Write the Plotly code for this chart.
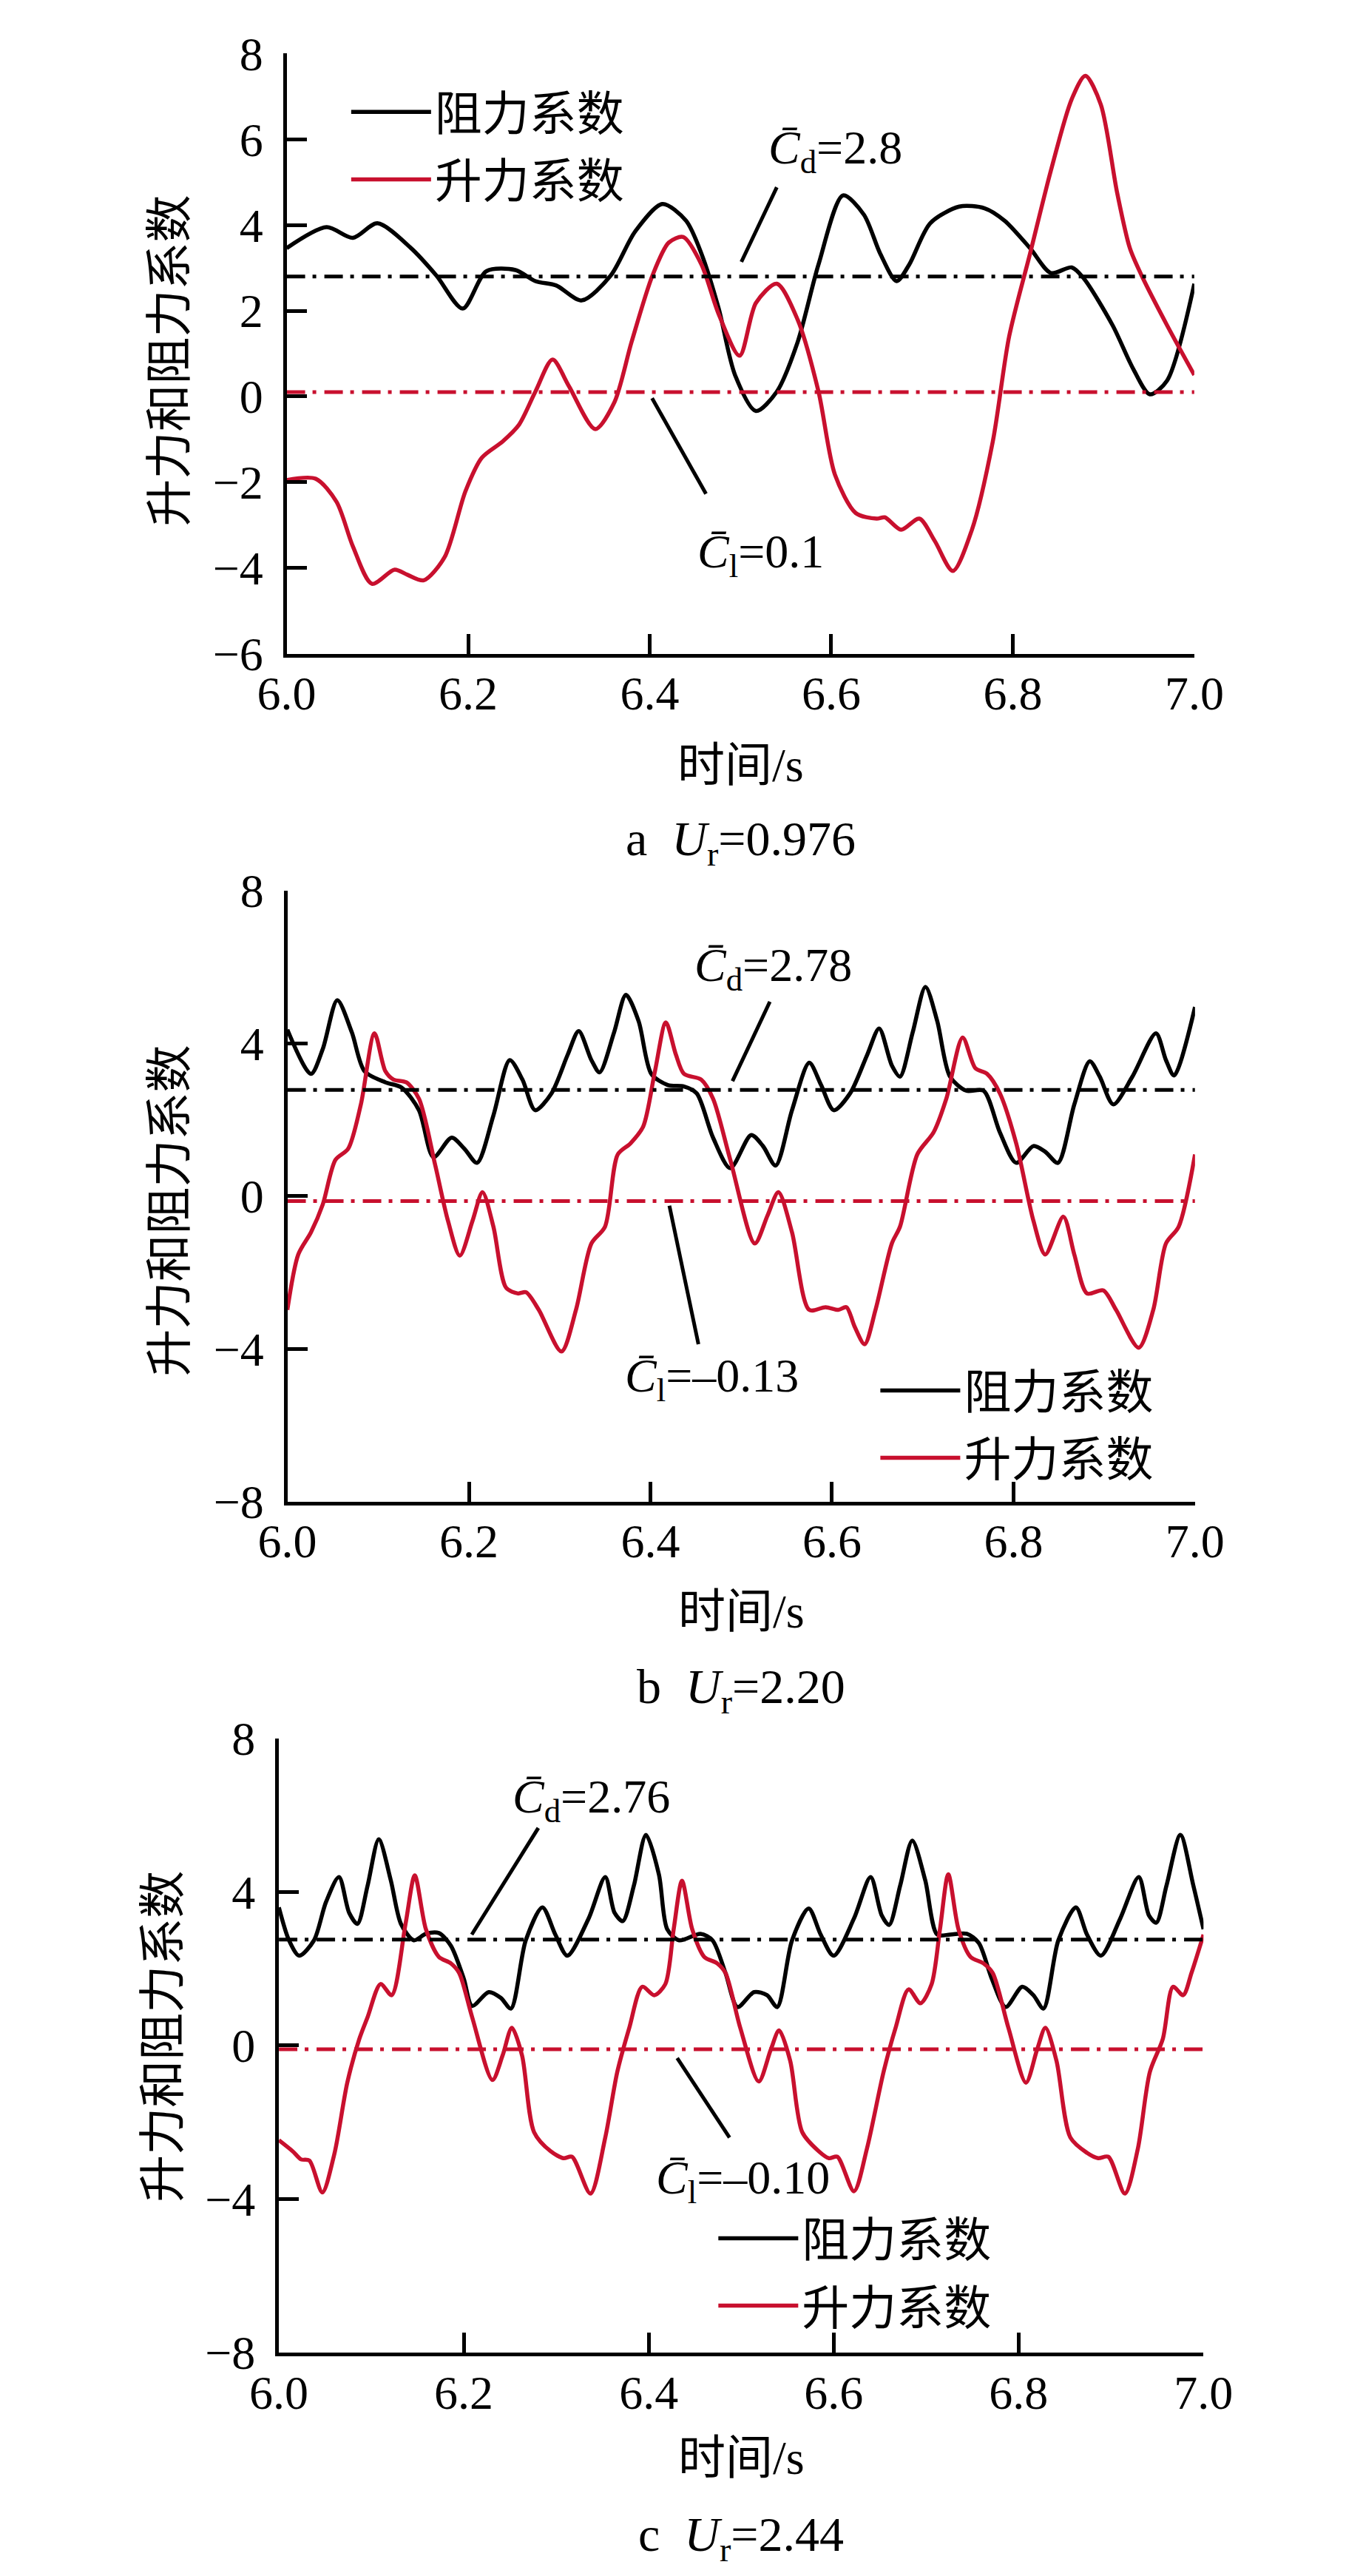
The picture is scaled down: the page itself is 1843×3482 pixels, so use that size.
import plotly.graph_objects as go

W, H = 1843, 3482
FONT = "Liberation Serif, Times New Roman, Noto Sans CJK SC, serif"
BLACK = "#000000"
RED = "#C8102E"
MEAN_DASH = "25px,10px,5px,11px"

# ---------------- data ----------------
# panel a  (Ur = 0.976)
T_A_CD = [6.000, 6.044, 6.073, 6.100, 6.137, 6.165, 6.194, 6.220, 6.252, 6.274, 6.297, 6.325, 6.357, 6.384,
          6.414, 6.440, 6.457, 6.476, 6.494, 6.517, 6.540, 6.563, 6.586, 6.613, 6.636, 6.654, 6.672, 6.686,
          6.709, 6.741, 6.769, 6.791, 6.819, 6.842, 6.865, 6.878, 6.910, 6.933, 6.951, 6.970, 7.000]
CD_A = [3.46, 3.95, 3.70, 4.04, 3.46, 2.82, 2.05, 2.92, 2.95, 2.69, 2.59, 2.24, 2.82, 3.85,
        4.49, 4.10, 3.33, 2.05, 0.50, -0.34, 0.11, 1.27, 3.08, 4.69, 4.24, 3.33, 2.69, 3.08,
        4.04, 4.43, 4.39, 4.10, 3.46, 2.88, 3.01, 2.76, 1.66, 0.63, 0.05, 0.37, 2.63]
T_A_CL = [6.000, 6.032, 6.055, 6.073, 6.094, 6.119, 6.133, 6.151, 6.174, 6.197, 6.215, 6.238, 6.256, 6.274,
          6.293, 6.311, 6.340, 6.361, 6.380, 6.403, 6.421, 6.437, 6.457, 6.476, 6.499, 6.517, 6.540, 6.563,
          6.586, 6.604, 6.627, 6.650, 6.659, 6.677, 6.697, 6.714, 6.734, 6.755, 6.778, 6.796, 6.819, 6.842,
          6.865, 6.880, 6.897, 6.915, 6.929, 6.942, 6.970, 7.000]
CL_A = [-1.95, -1.92, -2.46, -3.50, -4.37, -4.04, -4.16, -4.29, -3.75, -2.21, -1.43, -1.05, -0.66, 0.11,
        0.86, 0.24, -0.76, -0.14, 1.27, 2.82, 3.59, 3.72, 3.08, 1.92, 0.95, 2.18, 2.63, 1.79,
        0.11, -1.82, -2.72, -2.85, -2.82, -3.11, -2.85, -3.37, -4.07, -3.11, -1.05, 1.40, 3.33, 5.27,
        6.94, 7.48, 6.81, 4.75, 3.46, 2.82, 1.66, 0.50]
MEAN_A = [2.8, 0.1]

# panel b  (Ur = 2.20)
T_B_CD = [6.000, 6.026, 6.039, 6.055, 6.071, 6.085, 6.108, 6.126, 6.145, 6.161, 6.181, 6.195, 6.209, 6.227,
          6.245, 6.259, 6.273, 6.291, 6.309, 6.321, 6.335, 6.344, 6.360, 6.373, 6.387, 6.401, 6.419, 6.437,
          6.451, 6.469, 6.488, 6.511, 6.524, 6.538, 6.556, 6.575, 6.588, 6.602, 6.620, 6.639, 6.652, 6.666,
          6.675, 6.689, 6.703, 6.716, 6.730, 6.748, 6.767, 6.785, 6.803, 6.822, 6.835, 6.849, 6.867, 6.884,
          6.895, 6.910, 6.931, 6.957, 6.968, 6.977, 7.000]
CD_B = [4.36, 3.20, 3.85, 5.13, 4.29, 3.27, 2.98, 2.84, 2.25, 1.02, 1.53, 1.24, 0.87, 2.11,
        3.56, 3.05, 2.25, 2.69, 3.71, 4.32, 3.56, 3.24, 4.29, 5.27, 4.58, 3.20, 2.91, 2.87,
        2.69, 1.53, 0.73, 1.60, 1.31, 0.80, 2.25, 3.49, 2.91, 2.25, 2.69, 3.71, 4.39, 3.42,
        3.13, 4.29, 5.48, 4.58, 3.13, 2.76, 2.76, 1.67, 0.87, 1.31, 1.16, 0.87, 2.40, 3.53,
        3.13, 2.40, 3.13, 4.26, 3.56, 3.16, 4.95]
T_B_CL = [6.000, 6.012, 6.026, 6.039, 6.053, 6.067, 6.081, 6.096, 6.108, 6.117, 6.131, 6.145, 6.163, 6.177,
          6.190, 6.204, 6.215, 6.227, 6.241, 6.254, 6.263, 6.277, 6.302, 6.318, 6.335, 6.350, 6.364, 6.378,
          6.392, 6.405, 6.417, 6.428, 6.437, 6.456, 6.469, 6.488, 6.515, 6.529, 6.541, 6.556, 6.575, 6.593,
          6.607, 6.616, 6.625, 6.636, 6.648, 6.666, 6.675, 6.694, 6.712, 6.726, 6.744, 6.758, 6.771, 6.785,
          6.803, 6.822, 6.835, 6.855, 6.867, 6.881, 6.899, 6.913, 6.938, 6.954, 6.968, 6.982, 7.000]
CL_B = [-2.98, -1.53, -0.95, -0.22, 0.95, 1.24, 2.40, 4.26, 3.27, 3.05, 2.98, 2.55, 0.80, -0.65,
        -1.56, -0.65, 0.10, -0.80, -2.40, -2.55, -2.52, -2.98, -4.07, -2.98, -1.24, -0.80, 1.09, 1.38,
        1.82, 3.27, 4.55, 3.71, 3.20, 3.05, 2.55, 0.95, -1.24, -0.51, 0.10, -0.95, -2.98, -2.91,
        -2.98, -2.91, -3.42, -3.88, -2.98, -1.24, -0.80, 1.09, 1.67, 2.55, 4.15, 3.35, 3.20, 2.69,
        1.38, -0.65, -1.53, -0.54, -1.53, -2.55, -2.47, -2.98, -3.97, -2.98, -1.24, -0.80, 1.09]
MEAN_B = [2.78, -0.13]

# panel c  (Ur = 2.44)
T_C_CD = [6.000, 6.011, 6.022, 6.038, 6.051, 6.065, 6.076, 6.085, 6.096, 6.108, 6.121, 6.132, 6.146, 6.159,
          6.173, 6.186, 6.200, 6.209, 6.227, 6.240, 6.251, 6.267, 6.285, 6.299, 6.312, 6.335, 6.353, 6.363,
          6.372, 6.384, 6.397, 6.411, 6.420, 6.433, 6.456, 6.469, 6.483, 6.496, 6.514, 6.528, 6.539, 6.555,
          6.573, 6.586, 6.600, 6.622, 6.640, 6.652, 6.660, 6.672, 6.685, 6.699, 6.712, 6.726, 6.744, 6.757,
          6.771, 6.786, 6.804, 6.816, 6.827, 6.843, 6.862, 6.874, 6.889, 6.910, 6.930, 6.941, 6.949, 6.960,
          6.975, 6.989, 7.000]
CD_C = [3.60, 2.74, 2.34, 2.74, 3.74, 4.39, 3.46, 3.17, 4.17, 5.37, 4.31, 3.17, 2.74, 2.91,
        2.93, 2.60, 1.74, 1.03, 1.39, 1.24, 0.96, 2.74, 3.60, 2.89, 2.34, 3.31, 4.39, 3.46,
        3.24, 4.17, 5.49, 4.46, 3.03, 2.74, 2.91, 2.74, 1.89, 1.00, 1.39, 1.31, 1.00, 2.74,
        3.57, 2.89, 2.34, 3.31, 4.39, 3.39, 3.14, 4.17, 5.34, 4.31, 2.89, 2.89, 2.91, 2.67,
        1.74, 1.00, 1.53, 1.31, 0.96, 2.74, 3.60, 2.89, 2.34, 3.31, 4.39, 3.39, 3.20, 4.17,
        5.49, 4.17, 3.03]
T_C_CL = [6.000, 6.015, 6.024, 6.033, 6.047, 6.060, 6.074, 6.087, 6.096, 6.110, 6.122, 6.137, 6.147, 6.159,
          6.173, 6.186, 6.195, 6.209, 6.231, 6.242, 6.252, 6.263, 6.276, 6.294, 6.308, 6.317, 6.337, 6.353,
          6.366, 6.379, 6.393, 6.406, 6.418, 6.427, 6.436, 6.447, 6.460, 6.474, 6.483, 6.499, 6.519, 6.532,
          6.541, 6.553, 6.566, 6.584, 6.595, 6.604, 6.622, 6.636, 6.654, 6.667, 6.681, 6.694, 6.706, 6.715,
          6.724, 6.735, 6.748, 6.762, 6.772, 6.789, 6.808, 6.820, 6.829, 6.841, 6.856, 6.874, 6.886, 6.897,
          6.915, 6.929, 6.942, 6.956, 6.967, 6.978, 6.987, 7.000]
CL_C = [-2.47, -2.76, -2.97, -3.00, -3.83, -2.83, -0.97, 0.17, 0.74, 1.60, 1.31, 3.17, 4.43, 3.03,
        2.31, 2.14, 1.89, 0.74, -0.90, -0.26, 0.46, -0.26, -2.26, -2.76, -2.94, -2.90, -3.86, -2.40,
        -0.69, 0.46, 1.53, 1.31, 1.60, 3.03, 4.29, 3.03, 2.31, 2.14, 1.89, 0.46, -0.94, -0.11,
        0.39, -0.40, -2.26, -2.76, -2.94, -2.90, -3.80, -2.69, -0.69, 0.46, 1.46, 1.10, 1.60, 3.03,
        4.46, 3.03, 2.31, 2.14, 1.89, 0.46, -0.97, -0.11, 0.46, -0.40, -2.40, -2.80, -2.94, -2.90,
        -3.86, -2.69, -0.69, 0.17, 1.53, 1.31, 1.89, 2.89]
MEAN_C = [2.76, -0.10]

SERIES_NAMES = ["阻力系数", "升力系数"]
X_TICKS = [6.0, 6.2, 6.4, 6.6, 6.8, 7.0]
Y_RANGES = [[-6, 8], [-8, 8], [-8, 8]]
Y_DTICKS = [2, 4, 4]
CAPTIONS = ["a\u00a0\u00a0<i>U</i><sub>r</sub>=0.976",
            "b\u00a0\u00a0<i>U</i><sub>r</sub>=2.20",
            "c\u00a0\u00a0<i>U</i><sub>r</sub>=2.44"]
CD_LABELS = ["=2.8", "=2.78", "=2.76"]
CL_LABELS = ["=0.1", "=–0.13", "=–0.10"]

# annotation anchor points (data coords): label left/centre, leader line ends
CD_LABEL_POS = [(6.529, 5.72), (6.4465, 5.96), (6.251, 6.39)]
CD_LEADER = [(6.540, 4.88, 6.501, 3.14), (6.5316, 5.09, 6.4904, 3.01), (6.2806, 5.67, 6.2086, 2.89)]
CL_LABEL_POS = [(6.451, -3.69), (6.3705, -4.80), (6.4065, -3.54)]
CL_LEADER = [(6.4026, -0.04, 6.462, -2.27), (6.4209, -0.25, 6.4529, -3.88), (6.4308, -0.33, 6.4874, -2.40)]

# ---------------- layout geometry (pixels) ----------------
PLOT_PX = [  # left, right, top, bottom
    (355, 1638, 30, 858),
    (356, 1639, 1185, 2028),
    (344, 1651, 2355, 3202),
]
XTITLE_Y = [1012, 2180, 3348]
CAPTION_Y = [1118, 2288, 3458]
YTITLE_X = [190, 190, 180]
YTITLE_Y = [454, 1627, 2766]
LEGEND_ROW_OFFSET = 45
LEGEND_ROW_GAP = 93
LEGEND_PX = [  # left, mid-point between the two legend rows
    (441, 153),
    (1189, 1917),
    (960, 3087),
]


def px_x(p):
    return p / W


def px_y(p):
    return 1 - p / H


panels = [
    (T_A_CD, CD_A, T_A_CL, CL_A, MEAN_A),
    (T_B_CD, CD_B, T_B_CL, CL_B, MEAN_B),
    (T_C_CD, CD_C, T_C_CL, CL_C, MEAN_C),
]

fig = go.Figure()
annotations = []
shapes = []
layout = {}

for i, (tcd, cd, tcl, cl, means) in enumerate(panels):
    sfx = "" if i == 0 else str(i + 1)
    xa, ya = "x" + sfx, "y" + sfx
    leg_k = "legend" if i == 0 else "legend%d" % (2 * i + 1)
    leg_l = "legend%d" % (2 * i + 2)
    # curves
    fig.add_trace(go.Scatter(x=tcd, y=cd, mode="lines", name=SERIES_NAMES[0], xaxis=xa, yaxis=ya,
                             line=dict(color=BLACK, width=5.5, shape="spline", smoothing=0.8),
                             legend=leg_k, showlegend=True))
    fig.add_trace(go.Scatter(x=tcl, y=cl, mode="lines", name=SERIES_NAMES[1], xaxis=xa, yaxis=ya,
                             line=dict(color=RED, width=5.5, shape="spline", smoothing=0.8),
                             legend=leg_l, showlegend=True))
    # mean lines
    fig.add_trace(go.Scatter(x=[X_TICKS[0], X_TICKS[-1]], y=[means[0], means[0]], mode="lines",
                             xaxis=xa, yaxis=ya, showlegend=False,
                             line=dict(color=BLACK, width=5, dash=MEAN_DASH)))
    fig.add_trace(go.Scatter(x=[X_TICKS[0], X_TICKS[-1]], y=[means[1], means[1]], mode="lines",
                             xaxis=xa, yaxis=ya, showlegend=False,
                             line=dict(color=RED, width=5, dash=MEAN_DASH)))

    l, r, t, b = PLOT_PX[i]
    layout["xaxis" + sfx] = dict(
        domain=[px_x(l), px_x(r)], range=[X_TICKS[0], X_TICKS[-1]], anchor=ya,
        tickvals=X_TICKS, tickformat=".1f", ticks="inside", ticklen=27, tickwidth=5,
        tickcolor=BLACK, showline=True, linewidth=5, linecolor=BLACK, showgrid=False,
        zeroline=False, tickfont=dict(family=FONT, size=64, color=BLACK), ticklabelstandoff=-6)
    layout["yaxis" + sfx] = dict(
        domain=[px_y(b), px_y(t)], range=Y_RANGES[i], anchor=xa, dtick=Y_DTICKS[i],
        tick0=0, ticks="inside", ticklen=27, tickwidth=5, tickcolor=BLACK, showline=True,
        linewidth=5, linecolor=BLACK, showgrid=False, zeroline=False,
        tickfont=dict(family=FONT, size=64, color=BLACK), ticklabelstandoff=14)
    lx, mid = LEGEND_PX[i]
    for key, ry in ((leg_k, mid - LEGEND_ROW_GAP / 2), (leg_l, mid + LEGEND_ROW_GAP / 2)):
        layout[key] = dict(x=px_x(lx), y=px_y(ry - LEGEND_ROW_OFFSET), xanchor="left", yanchor="top",
                           font=dict(family=FONT, size=64, color=BLACK), itemwidth=108,
                           bgcolor="rgba(0,0,0,0)", borderwidth=0)

    # texts
    annotations.append(dict(xref="paper", yref="paper", x=px_x((l + r) / 2), y=px_y(XTITLE_Y[i]),
                            text="时间/s", showarrow=False, xanchor="center", yanchor="middle",
                            font=dict(family=FONT, size=64, color=BLACK)))
    annotations.append(dict(xref="paper", yref="paper", x=px_x((l + r) / 2), y=px_y(CAPTION_Y[i]),
                            text=CAPTIONS[i], showarrow=False, xanchor="center", yanchor="middle",
                            font=dict(family=FONT, size=66, color=BLACK)))
    annotations.append(dict(xref="paper", yref="paper", x=px_x(YTITLE_X[i]), y=px_y(YTITLE_Y[i]),
                            text="升力和阻力系数", showarrow=False, textangle=-90,
                            xanchor="center", yanchor="middle",
                            font=dict(family=FONT, size=64, color=BLACK)))
    # mean-value labels
    cx, cy = CD_LABEL_POS[i]
    annotations.append(dict(xref=xa, yref=ya, x=cx, y=cy, xanchor="left", yanchor="middle",
                            text="<i>C\u0304</i><sub>d</sub>" + CD_LABELS[i], showarrow=False,
                            font=dict(family=FONT, size=64, color=BLACK)))
    cx, cy = CL_LABEL_POS[i]
    annotations.append(dict(xref=xa, yref=ya, x=cx, y=cy, xanchor="left", yanchor="middle",
                            text="<i>C\u0304</i><sub>l</sub>" + CL_LABELS[i], showarrow=False,
                            font=dict(family=FONT, size=64, color=BLACK)))
    # leader lines
    for (x0, y0, x1, y1) in (CD_LEADER[i], CL_LEADER[i]):
        shapes.append(dict(type="line", xref=xa, yref=ya, x0=x0, y0=y0, x1=x1, y1=y1,
                           line=dict(color=BLACK, width=5)))

fig.update_layout(
    width=W, height=H, margin=dict(l=0, r=0, t=0, b=0),
    paper_bgcolor="white", plot_bgcolor="white",
    annotations=annotations, shapes=shapes, **layout)

fig.write_html("out.html")
